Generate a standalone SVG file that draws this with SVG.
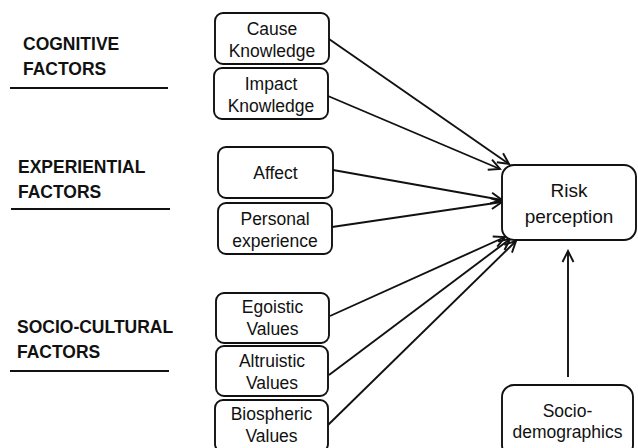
<svg xmlns="http://www.w3.org/2000/svg" width="638" height="448" viewBox="0 0 638 448">
<defs>
<style>
.box{fill:#fff;stroke:#111;stroke-width:1.9}
.t{font-family:"Liberation Sans",Arial,sans-serif;font-size:17.5px;fill:#111;text-anchor:middle}
.big{font-size:19px}
.h{font-family:"Liberation Sans",Arial,sans-serif;font-size:17.5px;font-weight:bold;fill:#111}
.rule{stroke:#111;stroke-width:1.9}
.c{stroke:#111;stroke-width:1.9;fill:none;marker-end:url(#ah)}
</style>
<marker id="ah" markerUnits="userSpaceOnUse" markerWidth="14" markerHeight="14" viewBox="-12 -7 14 14" refX="0" refY="0" orient="auto">
<path d="M-11,-5.5 L0,0 L-11,5.5" fill="none" stroke="#111" stroke-width="1.9"/>
</marker>
</defs>
<rect width="638" height="448" fill="#fff"/>
<g id="headings">
<text class="h" x="23" y="50">COGNITIVE</text>
<text class="h" x="23" y="75">FACTORS</text>
<line class="rule" x1="10" y1="88" x2="168" y2="88"/>
<text class="h" x="18" y="173">EXPERIENTIAL</text>
<text class="h" x="18" y="198">FACTORS</text>
<line class="rule" x1="11" y1="209" x2="170" y2="209"/>
<text class="h" x="17" y="333">SOCIO-CULTURAL</text>
<text class="h" x="17" y="358">FACTORS</text>
<line class="rule" x1="10" y1="371" x2="169" y2="371"/>
</g>
<g id="connectors">
<line class="c" x1="329" y1="39" x2="509" y2="164"/>
<line class="c" x1="328" y1="96" x2="500" y2="169"/>
<line class="c" x1="333" y1="170" x2="502" y2="200"/>
<line class="c" x1="332" y1="227" x2="502" y2="202"/>
<line class="c" x1="330" y1="316" x2="505" y2="237"/>
<line class="c" x1="329" y1="375" x2="510" y2="239"/>
<line class="c" x1="328" y1="425" x2="516" y2="241"/>
<line class="c" x1="568" y1="377" x2="568" y2="251"/>
</g>
<g id="cause">
<rect class="box" x="215" y="13" width="114" height="51" rx="8"/>
<text class="t" x="272" y="35">Cause</text>
<text class="t" x="272" y="57">Knowledge</text>
</g>
<g id="impact">
<rect class="box" x="214" y="68" width="114" height="51" rx="8"/>
<text class="t" x="271" y="90">Impact</text>
<text class="t" x="271" y="112">Knowledge</text>
</g>
<g id="affect">
<rect class="box" x="218" y="147" width="115" height="51" rx="8"/>
<text class="t" x="275.5" y="179">Affect</text>
</g>
<g id="personal">
<rect class="box" x="218" y="203" width="114" height="51" rx="8"/>
<text class="t" x="275" y="225">Personal</text>
<text class="t" x="275" y="247">experience</text>
</g>
<g id="egoistic">
<rect class="box" x="216" y="293" width="113" height="50" rx="8"/>
<text class="t" x="272.5" y="313">Egoistic</text>
<text class="t" x="272.5" y="335">Values</text>
</g>
<g id="altruistic">
<rect class="box" x="216" y="346" width="112" height="50" rx="8"/>
<text class="t" x="272" y="367">Altruistic</text>
<text class="t" x="272" y="389">Values</text>
</g>
<g id="biospheric">
<rect class="box" x="215" y="400" width="113" height="52" rx="8"/>
<text class="t" x="271.5" y="420">Biospheric</text>
<text class="t" x="271.5" y="442">Values</text>
</g>
<g id="risk">
<rect class="box" x="502" y="165" width="134" height="75" rx="12"/>
<text class="t big" x="569" y="197">Risk</text>
<text class="t big" x="569" y="223">perception</text>
</g>
<g id="sociodemo">
<rect class="box" x="502" y="385" width="131" height="72" rx="12"/>
<text class="t" x="567.5" y="417">Socio-</text>
<text class="t" x="567.5" y="438">demographics</text>
</g>
</svg>
